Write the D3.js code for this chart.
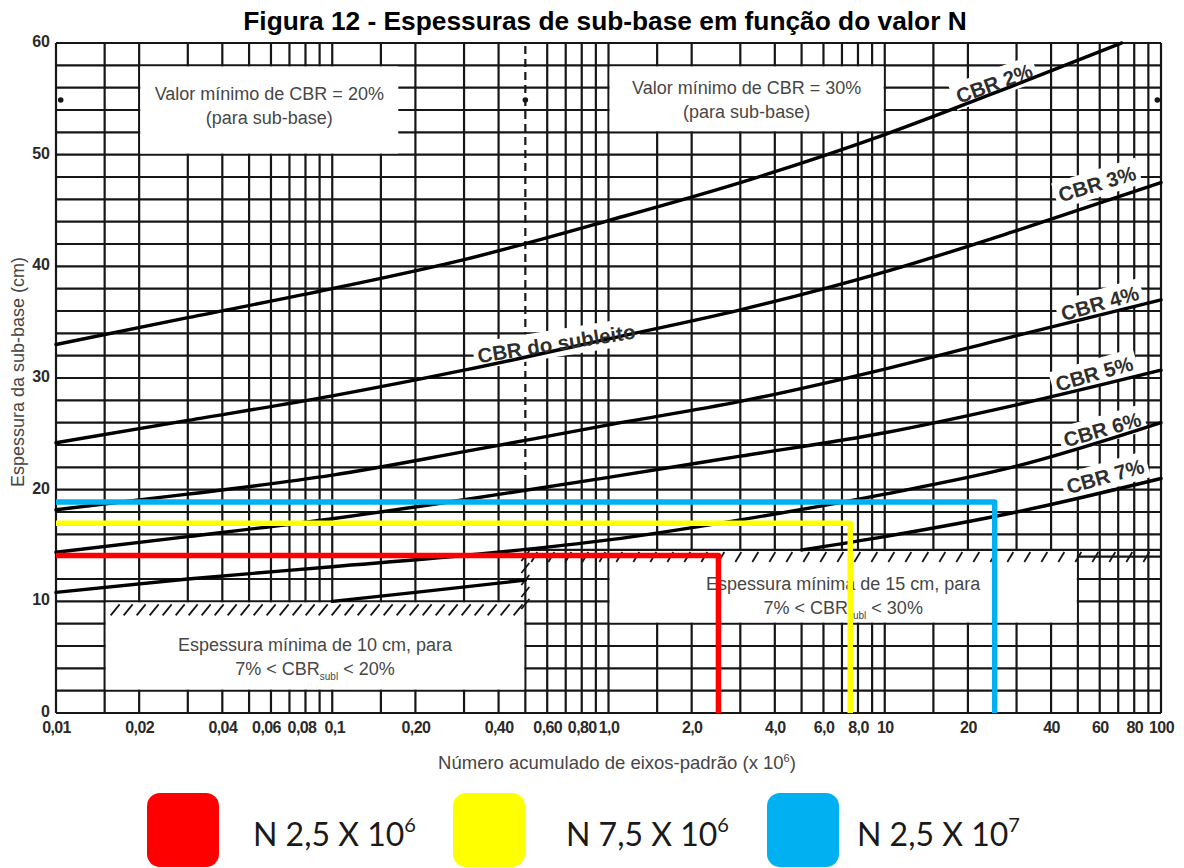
<!DOCTYPE html>
<html>
<head>
<meta charset="utf-8">
<script src="https://cdn.jsdelivr.net/npm/d3@7"></script>
<style>
  html, body { margin: 0; padding: 0; background: #fff; }
  svg { display: block; font-family: "Liberation Sans", Arial, sans-serif; }
</style>
</head>
<body>
<svg id="chart" width="1184" height="868"></svg>
<script>
// Espessura da sub-base (cm) versus número N, one curve per subgrade CBR

// ---- curve data: N (x 10^6) and thickness (cm)
const cbrNames = ["CBR 2%", "CBR 3%", "CBR 4%", "CBR 5%", "CBR 6%", "CBR 7%"];
const nCBR2 = [0.01, 0.03, 0.1, 0.3, 1, 3, 10, 30, 72];
const hCBR2 = [33.0, 35.4, 38.0, 40.6, 44.1, 47.5, 51.8, 56.3, 60.0];
const nStd  = [0.01, 0.03, 0.1, 0.3, 1, 3, 10, 30, 100];
const hCBR3 = [24.2, 26.2, 28.4, 30.7, 33.5, 36.1, 39.5, 43.2, 47.5];
const hCBR4 = [18.2, 19.6, 21.3, 23.4, 25.8, 27.9, 30.8, 33.8, 37.0];
const hCBR5 = [14.4, 15.8, 17.4, 19.1, 21.1, 23.0, 25.1, 27.6, 30.7];
const hCBR6 = [10.8, 12.0, 13.1, 14.1, 15.5, 17.3, 19.6, 22.1, 26.0];
const nCBR7 = [0.1, 0.2, 0.5, 1, 2, 5, 10, 30, 100];
const hCBR7 = [10.0, 10.8, 11.9, 12.6, 13.4, 14.6, 15.8, 18.0, 21.0];

// ---- axes
const xTickValues = [0.01, 0.02, 0.04, 0.06, 0.08, 0.1, 0.2, 0.4, 0.6, 0.8, 1, 2, 4, 6, 8, 10, 20, 40, 60, 80, 100];
const xTickLabels = ["0,01", "0,02", "0,04", "0,06", "0,08", "0,1", "0,20", "0,40", "0,60", "0,80", "1,0",
                     "2,0", "4,0", "6,0", "8,0", "10", "20", "40", "60", "80", "100"];
const yTickValues = [0, 10, 20, 30, 40, 50, 60];

// ---- design traffic cases (N x 10^6) and resulting sub-base thickness (cm)
const projectN = [2.5, 7.5, 25];
const projectH = [14.1, 17.0, 18.9];
const projectMantissa = ["2,5", "7,5", "2,5"];
const projectExponent = ["6", "6", "7"];
const projectColors = ["#ff0000", "#ffff00", "#00b0f0"];

// ---- zone limits
const hatchH = 14.6;     // 15 cm minimum zone boundary
const dividerN = 0.5;    // CBR 20% / 30% sub-base divide
const dividerTop = 20.6;

const svg = d3.select("#chart");
const INK = "#161616";

const x = d3.scaleLog().domain([0.01, 100]).range([56, 1161]);
const y = d3.scaleLinear().domain([0, 60]).range([713, 43]);

// ---- title
svg.append("text")
  .attr("x", 605).attr("y", 30)
  .attr("text-anchor", "middle")
  .attr("font-size", 26.3).attr("font-weight", "bold").attr("fill", "#000")
  .text("Figura 12 - Espessuras de sub-base em função do valor N");

// ---- log grid
const gridN = [];
[0.01, 0.1, 1, 10].forEach(d => [1, 1.5, 2, 3, 4, 5, 6, 7, 8, 9].forEach(m => gridN.push(+(d * m).toPrecision(3))));
gridN.push(100);
const gridH = d3.range(0, 61, 2);

const grid = svg.append("g").attr("stroke", INK).attr("stroke-width", 2.2);
grid.selectAll("line.gv").data(gridN.filter(n => n !== dividerN)).join("line")
  .attr("class", "gv")
  .attr("x1", d => x(d)).attr("x2", d => x(d))
  .attr("y1", y(0)).attr("y2", y(60));
grid.selectAll("line.gh").data(gridH).join("line")
  .attr("class", "gh")
  .attr("x1", x(0.01)).attr("x2", x(100))
  .attr("y1", d => y(d)).attr("y2", d => y(d));
grid.append("line")
  .attr("x1", x(dividerN)).attr("x2", x(dividerN))
  .attr("y1", y(0)).attr("y2", y(dividerTop));
grid.append("line")
  .attr("x1", x(dividerN)).attr("x2", x(dividerN))
  .attr("y1", y(dividerTop)).attr("y2", y(60))
  .attr("stroke-dasharray", "8,5");

// ---- note boxes
const boxes = [
  { n0: 0.02, n1: 0.175, h0: 50, h1: 58, first: 55.5,
    lines: [["Valor mínimo de CBR = 20%"], ["(para sub-base)"]] },
  { n0: 1, n1: 10, h0: 52, h1: 58, first: 56.0,
    lines: [["Valor mínimo de CBR = 30%"], ["(para sub-base)"]] },
  { n0: 0.015, n1: 0.5, h0: 2, h1: 10, first: 6.1,
    lines: [["Espessura mínima de 10 cm, para"], ["7% < CBR", "subl", " < 20%"]] },
  { n0: 1, n1: 50, h0: 8, h1: hatchH, first: 11.6,
    lines: [["Espessura mínima de 15 cm, para"], ["7% < CBR", "subl", " < 30%"]] }
];
const inset = 1.1;
svg.append("g").selectAll("rect").data(boxes).join("rect")
  .attr("x", d => x(d.n0) + inset)
  .attr("y", d => y(d.h1) + inset)
  .attr("width", d => x(d.n1) - x(d.n0) - 2 * inset)
  .attr("height", d => y(d.h0) - y(d.h1) - 2 * inset)
  .attr("fill", "#fff");

// ---- hatching of the minimum-thickness zones
const hatch = svg.append("g").attr("stroke", INK).attr("stroke-width", 1.8);
const y10 = y(10);
d3.range(x(0.015) + 6, x(dividerN) - 4, 13).forEach(px => {
  hatch.append("line").attr("x1", px).attr("y1", y10 + 14).attr("x2", px + 9).attr("y2", y10 + 3);
});
const yh = y(hatchH);
hatch.append("line").attr("x1", x(dividerN)).attr("x2", x(100)).attr("y1", yh).attr("y2", yh).attr("stroke-width", 2.2);
d3.range(x(dividerN) + 6, x(100) - 4, 17).forEach(px => {
  hatch.append("line").attr("x1", px).attr("y1", yh + 12).attr("x2", px + 6).attr("y2", yh + 2);
});
d3.range(yh + 6, y(9), 12).forEach(py => {
  hatch.append("line").attr("x1", x(dividerN) - 4).attr("y1", py + 5).attr("x2", x(dividerN) + 4).attr("y2", py - 5);
});

// ---- registration dots
svg.append("g").selectAll("circle").data([0.0104, dividerN, 97]).join("circle")
  .attr("cx", d => x(d)).attr("cy", y(54.9)).attr("r", 2.8).attr("fill", INK);

// layers: label backgrounds below curves, label text above
const bgLayer = svg.append("g");
const curveLayer = svg.append("g");
const textLayer = svg.append("g");
const colorLayer = svg.append("g");

// ---- CBR curves
const curveTable = [
  { name: cbrNames[0], n: nCBR2, h: hCBR2 },
  { name: cbrNames[1], n: nStd, h: hCBR3 },
  { name: cbrNames[2], n: nStd, h: hCBR4 },
  { name: cbrNames[3], n: nStd, h: hCBR5 },
  { name: cbrNames[4], n: nStd, h: hCBR6 },
  { name: cbrNames[5], n: nCBR7, h: hCBR7 }
].map(c => ({ name: c.name, pts: c.n.map((n, i) => ({ n, h: c.h[i] })) }));

// curves are not drawn inside the 15 cm minimum zone
const curveLine = d3.line()
  .defined(d => !(d.n > dividerN && d.h < hatchH - 0.01))
  .x(d => x(d.n)).y(d => y(d.h))
  .curve(d3.curveMonotoneX);

curveLayer.selectAll("path").data(curveTable).join("path")
  .attr("d", d => curveLine(d.pts))
  .attr("fill", "none").attr("stroke", "#000").attr("stroke-width", 3.4)
  .attr("stroke-linecap", "round");

// ---- curve labels
const labelPlacement = [
  { text: cbrNames[0], n: 24.9, h: 56.4, a: -20 },
  { text: cbrNames[1], n: 58.7, h: 47.4, a: -17 },
  { text: cbrNames[2], n: 60.1, h: 36.7, a: -16 },
  { text: cbrNames[3], n: 57.3, h: 30.4, a: -16 },
  { text: cbrNames[4], n: 61.3, h: 25.4, a: -16 },
  { text: cbrNames[5], n: 62.8, h: 21.2, a: -16 },
  { text: "CBR do subleito", n: 0.648, h: 33.1, a: -9 }
];
labelPlacement.forEach(l => {
  const tf = `translate(${x(l.n)},${y(l.h)}) rotate(${l.a})`;
  const t = textLayer.append("text")
    .attr("transform", tf)
    .attr("text-anchor", "middle").attr("dy", "0.36em")
    .attr("font-size", 20.5).attr("font-weight", "bold").attr("fill", "#2e2e2e")
    .text(l.text);
  const b = t.node().getBBox();
  bgLayer.append("rect")
    .attr("transform", tf)
    .attr("x", b.x - 4).attr("y", b.y - 2)
    .attr("width", b.width + 8).attr("height", b.height + 4)
    .attr("fill", "#fff");
});

// ---- note box text
boxes.forEach(bx => {
  const cx = (x(bx.n0) + x(bx.n1)) / 2;
  bx.lines.forEach((parts, i) => {
    const t = textLayer.append("text")
      .attr("x", cx).attr("y", y(bx.first) + i * 24)
      .attr("dy", "0.36em")
      .attr("text-anchor", "middle")
      .attr("font-size", 18).attr("fill", "#474747");
    t.append("tspan").text(parts[0]);
    if (parts.length > 1) {
      t.append("tspan").attr("font-size", 10).attr("dy", 5).text(parts[1]);
      t.append("tspan").attr("dy", -5).text(parts[2]);
    }
  });
});

// ---- axes
// crowded labels in the 0.06–0.1 span are eased apart slightly
const xLabelShift = new Map([[0.06, -5], [0.08, -4], [0.1, 2]]);
const xAxis = svg.append("g")
  .attr("transform", `translate(0,${y(0)})`)
  .call(d3.axisBottom(x).tickValues(xTickValues).tickFormat((d, i) => xTickLabels[i]).tickSize(0).tickPadding(9));
xAxis.select(".domain").remove();
xAxis.attr("font-family", "'Liberation Sans', Arial, sans-serif").attr("font-size", 16).attr("font-weight", "bold");
xAxis.selectAll("text")
  .attr("fill", "#2a2a2a").attr("letter-spacing", -0.6)
  .attr("dx", d => xLabelShift.get(d) || 0);

const yAxis = svg.append("g")
  .attr("transform", `translate(${x(0.01)},0)`)
  .call(d3.axisLeft(y).tickValues(yTickValues).tickFormat(d3.format("d")).tickSize(0).tickPadding(6));
yAxis.select(".domain").remove();
yAxis.attr("font-family", "'Liberation Sans', Arial, sans-serif").attr("font-size", 16).attr("font-weight", "bold");
yAxis.selectAll("text").attr("fill", "#2a2a2a").attr("dy", "0.22em");

const xTitle = svg.append("text")
  .attr("x", 617).attr("y", 769)
  .attr("text-anchor", "middle").attr("font-size", 18.5).attr("fill", "#454545");
xTitle.append("tspan").text("Número acumulado de eixos-padrão (x 10");
xTitle.append("tspan").attr("font-size", 11).attr("dy", -7).text("6");
xTitle.append("tspan").attr("dy", 7).text(")");

svg.append("text")
  .attr("transform", "translate(23.5,372) rotate(-90)")
  .attr("text-anchor", "middle").attr("font-size", 18).attr("fill", "#454545")
  .text("Espessura da sub-base (cm)");

// ---- design cases drawn on the chart
const projects = projectN.map((n, i) => ({ n, h: projectH[i], color: projectColors[i] }));
colorLayer.selectAll("path").data(projects).join("path")
  .attr("d", d => `M${x(0.01)},${y(d.h)}H${x(d.n)}V${y(0)}`)
  .attr("fill", "none").attr("stroke", d => d.color)
  .attr("stroke-width", 5.5).attr("stroke-linejoin", "round");

// ---- legend
const legendBoxX = [147, 453, 767];
const legendTextX = [253, 566, 857];
const legend = svg.append("g");
projects.forEach((p, i) => {
  legend.append("rect")
    .attr("x", legendBoxX[i]).attr("y", 793)
    .attr("width", 72).attr("height", 74).attr("rx", 13)
    .attr("fill", p.color);
  const t = legend.append("text")
    .attr("x", legendTextX[i]).attr("y", 846)
    .attr("font-family", "Lato, 'Open Sans', sans-serif")
    .attr("font-size", 32).attr("fill", "#1a1a1a");
  t.append("tspan").text(`N ${projectMantissa[i]} X 10`);
  t.append("tspan").attr("font-size", 20).attr("dy", -14).text(projectExponent[i]);
});
</script>
</body>
</html>
